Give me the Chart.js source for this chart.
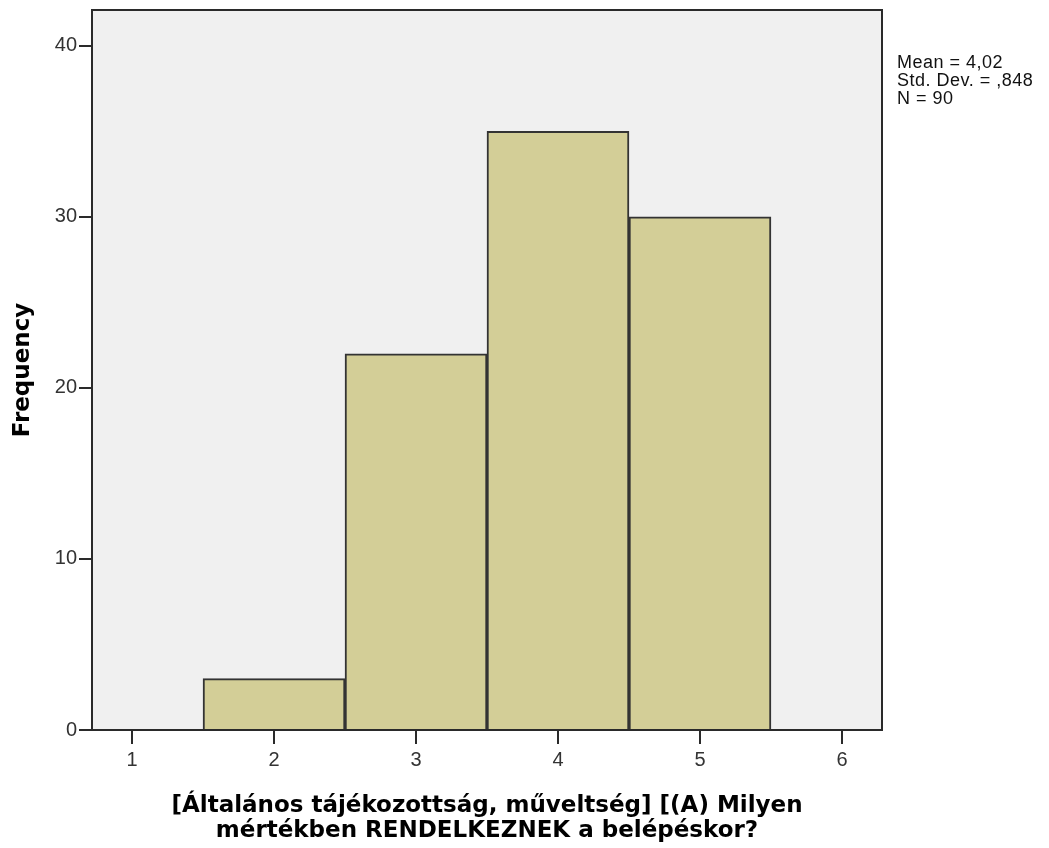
<!DOCTYPE html>
<html lang="hu">
<head>
    <meta charset="UTF-8">
    <title>Histogram</title>
    <style>
        body { margin: 0; background: #fff; }
        #wrap { position: relative; width: 1049px; height: 848px; }
        #stats { position: absolute; left: 897px; top: 53px; font: 18px "Liberation Sans", Arial, sans-serif; line-height: 18px; letter-spacing: 0.5px; color: #111; }
    </style>
</head>
<body>
    <div id="wrap">
        <canvas id="myChart" width="1049" height="848"></canvas>
        <div id="stats">Mean = 4,02<br>Std. Dev. = ,848<br>N = 90</div>
    </div>

    <script src="https://cdn.jsdelivr.net/npm/chart.js@4/dist/chart.umd.min.js"></script>
    <script>
    // histogram bins (midpoints) and counts
    var bins = [2, 3, 4, 5];
    var counts = [3, 22, 35, 30];
    var xTicks = [1, 2, 3, 4, 5, 6];
    var yTicks = [0, 10, 20, 30, 40];

    var frame = {
        id: 'frame',
        beforeDraw: (chart) => {
            const a = chart.chartArea, c = chart.ctx;
            c.save();
            c.fillStyle = '#f0f0f0';
            c.fillRect(a.left, a.top, a.right - a.left, a.bottom - a.top);
            c.restore();
        },
        afterDraw: (chart) => {
            const a = chart.chartArea, c = chart.ctx;
            c.save();
            c.strokeStyle = '#2a2a2a';
            c.lineWidth = 2;
            c.strokeRect(a.left, a.top, a.right - a.left, a.bottom - a.top);
            c.restore();
        }
    };

    var tickFont = { family: 'Liberation Sans', size: 20 };
    var titleFont = { family: 'DejaVu Sans', size: 23, weight: 'bold', lineHeight: 1.1 };

    var ctx = document.getElementById('myChart');
    var myChart = new Chart(ctx, {
        type: 'bar',
        data: {
            datasets: [{
                data: bins.map((b, i) => ({ x: b, y: counts[i] })),
                backgroundColor: '#d3ce97',
                borderColor: '#333',
                borderWidth: 2,
                barPercentage: 1,
                categoryPercentage: 1
            }]
        },
        plugins: [frame],
        options: {
            responsive: false,
            animation: false,
            layout: { padding: { left: 0, right: 167, top: 10, bottom: 0 } },
            plugins: { legend: { display: false }, tooltip: { enabled: false } },
            scales: {
                x: {
                    type: 'linear',
                    offset: false,
                    min: 0.718,
                    max: 6.282,
                    afterBuildTicks: (s) => { s.ticks = xTicks.map(v => ({ value: v })); },
                    afterFit: (s) => { s.height = 118; s.paddingLeft = 0; s.paddingRight = 0; },
                    grid: { offset: false, drawOnChartArea: false, drawTicks: true, tickLength: 14, color: '#2a2a2a', lineWidth: 2 },
                    border: { display: true, color: '#2a2a2a', width: 2 },
                    ticks: { color: '#333', font: tickFont, padding: 4 },
                    title: {
                        display: true,
                        text: ['[Általános tájékozottság, műveltség] [(A) Milyen', 'mértékben RENDELKEZNEK a belépéskor?'],
                        color: '#000',
                        font: titleFont,
                        padding: { top: 4, bottom: 4 }
                    }
                },
                y: {
                    min: 0,
                    max: 42.1,
                    afterBuildTicks: (s) => { s.ticks = yTicks.map(v => ({ value: v })); },
                    afterFit: (s) => { s.width = 92; s.paddingTop = 0; s.paddingBottom = 0; },
                    grid: { drawOnChartArea: false, drawTicks: true, tickLength: 13, color: '#2a2a2a', lineWidth: 2 },
                    border: { display: true, color: '#2a2a2a', width: 2 },
                    ticks: { color: '#333', font: tickFont, padding: 2 },
                    title: {
                        display: true,
                        text: 'Frequency',
                        color: '#000',
                        font: titleFont,
                        padding: { top: 10, bottom: 0 }
                    }
                }
            }
        }
    });
    </script>
</body>
</html>
